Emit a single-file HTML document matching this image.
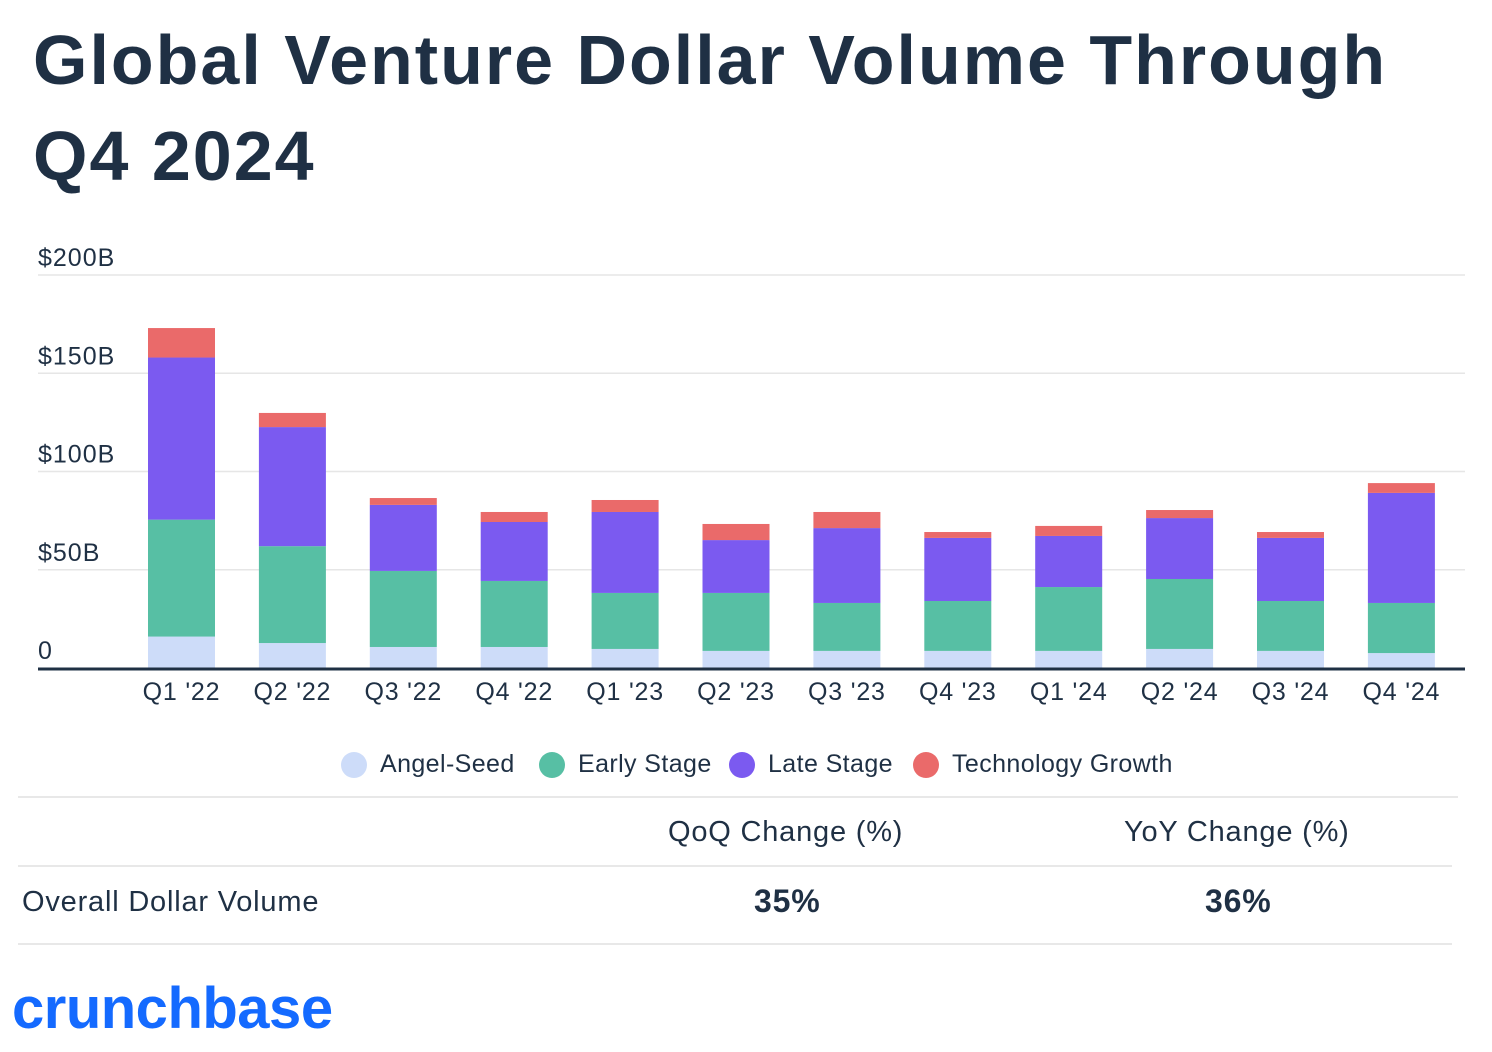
<!DOCTYPE html>
<html><head><meta charset="utf-8"><style>
body{margin:0;background:#fff;width:1492px;height:1052px;overflow:hidden;font-family:"Liberation Sans",sans-serif;color:#1f3044;position:relative}
.title{position:absolute;left:33px;top:12px;font-size:70px;font-weight:bold;line-height:96px;letter-spacing:2px;margin:0}
.leg{position:absolute;top:750px;font-size:25px;display:flex;align-items:center;letter-spacing:0.4px}
.dot{width:26px;height:26px;border-radius:50%;margin-right:13px;display:inline-block}
.hr{position:absolute;height:2px;background:#e8e8e8}
.cell{position:absolute;font-size:29px;letter-spacing:0.8px}
</style></head><body>
<h1 class="title">Global Venture Dollar Volume Through<br>Q4 2024</h1>
<svg id="chart" width="1492" height="720" style="position:absolute;left:0;top:0"></svg>
<div class="leg" style="left:341px"><span class="dot" style="background:#cddcf9"></span>Angel-Seed</div>
<div class="leg" style="left:539px"><span class="dot" style="background:#57bfa4"></span>Early Stage</div>
<div class="leg" style="left:729px"><span class="dot" style="background:#7b5af0"></span>Late Stage</div>
<div class="leg" style="left:913px"><span class="dot" style="background:#ea6a6a"></span>Technology Growth</div>
<div class="hr" style="left:18px;width:1440px;top:796px"></div>
<div class="cell" style="left:668px;top:816px">QoQ Change (%)</div>
<div class="cell" style="left:1124px;top:816px">YoY Change (%)</div>
<div class="hr" style="left:18px;width:1434px;top:865px"></div>
<div class="cell" style="left:22px;top:886px">Overall Dollar Volume</div>
<div class="cell" style="left:754px;top:883px;font-weight:bold;font-size:32px">35%</div>
<div class="cell" style="left:1205px;top:883px;font-weight:bold;font-size:32px">36%</div>
<div class="hr" style="left:18px;width:1434px;top:943px"></div>
<div style="position:absolute;left:12px;top:975px;font-size:58px;font-weight:bold;color:#146aff;letter-spacing:-0.5px">crunchbase</div>
<script>
const categories=["Q1 '22","Q2 '22","Q3 '22","Q4 '22","Q1 '23","Q2 '23","Q3 '23","Q4 '23","Q1 '24","Q2 '24","Q3 '24","Q4 '24"];
const angelSeed=[16,12.7,10.7,10.7,9.7,8.7,8.7,8.7,8.7,9.7,8.7,7.6];
const earlyStage=[59.5,49.3,38.7,33.6,28.5,29.5,24.4,25.4,32.5,35.6,25.4,25.5];
const lateStage=[82.5,60.6,33.6,30,41.2,26.9,38.1,32.1,26,31,32.1,56];
const techGrowth=[15,7.2,3.5,5.1,6.1,8.2,8.2,3,5.1,4.1,3,5];
const yTicks=[0,50,100,150,200];
const yTickLabels=["0","$50B","$100B","$150B","$200B"];
const svg=document.getElementById('chart');
const NS='http://www.w3.org/2000/svg';
const y0=668,ppu=393/200;
const yScale=v=>y0-v*ppu;
const xCenter=i=>181.5+i*110.9;
const bw=67;
function mk(t,a){const e=document.createElementNS(NS,t);for(const k in a)e.setAttribute(k,a[k]);svg.appendChild(e);return e;}
yTicks.forEach((t,i)=>{
  if(t>0){const g=mk('line',{x1:38,x2:1465,y1:yScale(t),y2:yScale(t),stroke:'#e6e6e6','stroke-width':1.5});
  
  }
  const tx=mk('text',{x:38,y:yScale(t)-9,'font-size':25,'letter-spacing':1,fill:'#1f3044','font-family':'Liberation Sans, sans-serif'});
  tx.textContent=yTickLabels[i];
  
  
});
const series=[[angelSeed,'#cddcf9','angel-seed'],[earlyStage,'#57bfa4','early-stage'],[lateStage,'#7b5af0','late-stage'],[techGrowth,'#ea6a6a','technology-growth']];
categories.forEach((c,i)=>{
  let cum=0;
  series.forEach(([arr,col,nm])=>{
    const v=arr[i];
    const r=mk('rect',{x:xCenter(i)-bw/2,y:yScale(cum+v),width:bw,height:v*ppu,fill:col});
    
    
    cum+=v;
  });
  const tx=mk('text',{x:xCenter(i),y:700,'font-size':25,'letter-spacing':0.8,fill:'#1f3044','text-anchor':'middle','font-family':'Liberation Sans, sans-serif'});
  tx.textContent=c;
  
  
});
const ax=mk('line',{x1:38,x2:1465,y1:y0+1,y2:y0+1,stroke:'#1f3044','stroke-width':3});


</script>
</body></html>
